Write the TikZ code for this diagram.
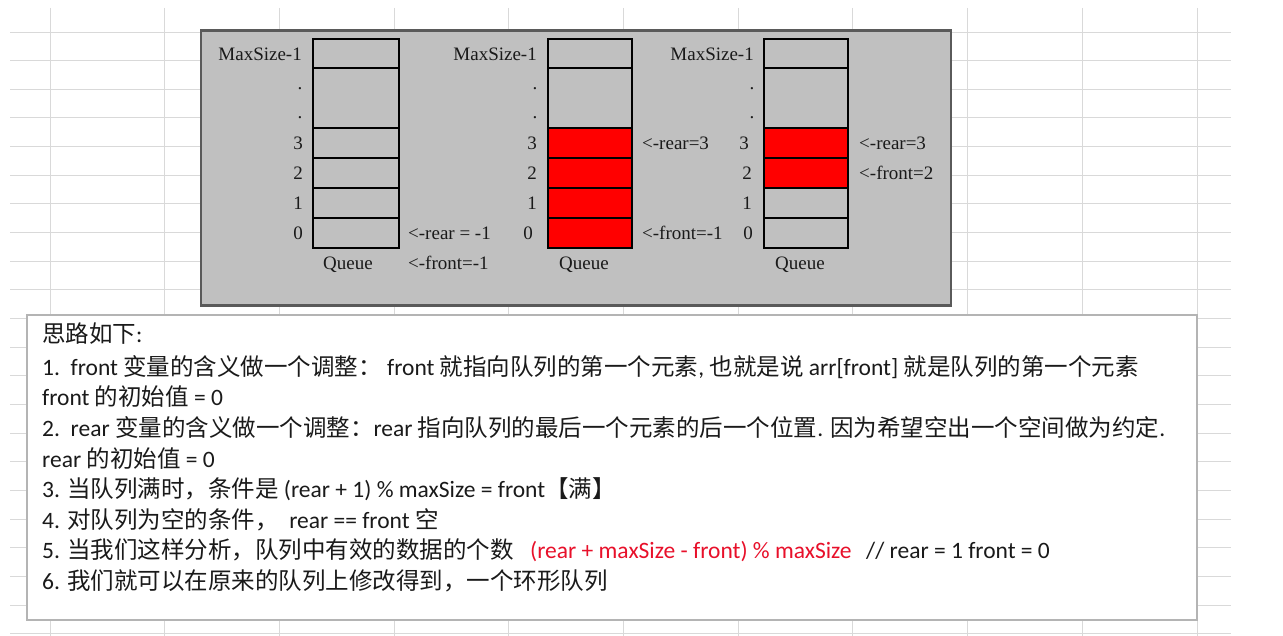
\documentclass[tikz,border=0pt]{standalone}
\usepackage{fontspec}
\setmainfont{Liberation Serif}
\newfontfamily\cjk{Noto Sans CJK SC}
\newfontfamily\latn{Carlito}
\newcommand\lat[1]{{\latn #1}}
\definecolor{gridc}{HTML}{D9D9D9}
\definecolor{boxgray}{HTML}{C0C0C0}
\definecolor{boxedge}{HTML}{5A5A5A}
\definecolor{noteedge}{HTML}{B4B4B4}
\definecolor{ink}{HTML}{1A1A1A}
\definecolor{formred}{HTML}{E8102A}
\tikzset{
  gridline/.style={draw=gridc, line width=0.9pt},
  panel/.style={draw=boxedge, fill=boxgray, line width=2.2pt, inner sep=0},
  notebox/.style={draw=noteedge, fill=white, line width=1.2pt, inner sep=0},
  cell/.style={draw=black, fill=boxgray, line width=1.1pt, inner sep=0, outer sep=0},
  fullcell/.style={cell, fill=red},
  idx/.style={font=\fontsize{19}{19}\selectfont, inner sep=0, anchor=base east, text=ink},
  ptr/.style={font=\fontsize{19}{19}\selectfont, inner sep=0, anchor=base west, text=ink},
  qname/.style={font=\fontsize{19}{19}\selectfont, inner sep=0, anchor=base, text=ink},
  dotlbl/.style={font=\fontsize{19}{19}\selectfont, inner sep=0, anchor=center, text=ink},
  note/.style={font=\cjk\fontsize{23.5}{23.5}\selectfont, inner sep=0, anchor=base west, text=ink},
}
\begin{document}
\begin{tikzpicture}[x=1pt,y=-1pt]
\useasboundingbox (0,0) rectangle (1283,636);
\fill[white] (0,0) rectangle (1283,636);
% spreadsheet grid
\foreach \k in {0,...,21} \draw[gridline] (10,{32+28.65*\k}) -- (1231,{32+28.65*\k});
\foreach \k in {0,...,10} \draw[gridline] ({50+114.7*\k},8) -- ({50+114.7*\k},636);

% grey panel
\node[panel, minimum width=750pt, minimum height=275pt] (panel) at (576,168) {};

% queue 1
\node[cell, minimum width=86pt, minimum height=29pt] (a9) at (356,53.5) {};
\node[cell, minimum width=86pt, minimum height=60pt] (ad) at (356,98) {};
\node[cell, minimum width=86pt, minimum height=30pt] (a3) at (356,143) {};
\node[cell, minimum width=86pt, minimum height=30pt] (a2) at (356,173) {};
\node[cell, minimum width=86pt, minimum height=30pt] (a1) at (356,203) {};
\node[cell, minimum width=86pt, minimum height=30pt] (a0) at (356,233) {};
\node[idx] (la9) at (302,60.5) {MaxSize-1};
\node[dotlbl] (lad1) at (300,89) {.};
\node[dotlbl] (lad2) at (300,118) {.};
\node[idx] (la3) at (303,149.5) {3};
\node[idx] (la2) at (303,179.5) {2};
\node[idx] (la1) at (303,209.5) {1};
\node[idx] (la0) at (303,239.5) {0};
\node[qname] (qa) at (348,270) {Queue};
\node[ptr] (pa1) at (408,239.5) {<-rear = -1};
\node[ptr] (pa2) at (408,269.5) {<-front=-1};

% queue 2
\node[cell, minimum width=84pt, minimum height=29pt] (b9) at (590,53.5) {};
\node[cell, minimum width=84pt, minimum height=60pt] (bd) at (590,98) {};
\node[fullcell, minimum width=84pt, minimum height=30pt] (b3) at (590,143) {};
\node[fullcell, minimum width=84pt, minimum height=30pt] (b2) at (590,173) {};
\node[fullcell, minimum width=84pt, minimum height=30pt] (b1) at (590,203) {};
\node[fullcell, minimum width=84pt, minimum height=30pt] (b0) at (590,233) {};
\node[idx] (lb9) at (537,60.5) {MaxSize-1};
\node[dotlbl] (lbd1) at (535,89) {.};
\node[dotlbl] (lbd2) at (535,118) {.};
\node[idx] (lb3) at (537,149.5) {3};
\node[idx] (lb2) at (537,179.5) {2};
\node[idx] (lb1) at (537,209.5) {1};
\node[idx] (lb0) at (533,239.5) {0};
\node[qname] (qb) at (584,270) {Queue};
\node[ptr] (pb1) at (642,149.5) {<-rear=3};
\node[ptr] (pb2) at (642,239.5) {<-front=-1};

% queue 3
\node[cell, minimum width=84pt, minimum height=29pt] (c9) at (806,53.5) {};
\node[cell, minimum width=84pt, minimum height=60pt] (cd) at (806,98) {};
\node[fullcell, minimum width=84pt, minimum height=30pt] (c3) at (806,143) {};
\node[fullcell, minimum width=84pt, minimum height=30pt] (c2) at (806,173) {};
\node[cell, minimum width=84pt, minimum height=30pt] (c1) at (806,203) {};
\node[cell, minimum width=84pt, minimum height=30pt] (c0) at (806,233) {};
\node[idx] (lc9) at (754,60.5) {MaxSize-1};
\node[dotlbl] (lcd1) at (752,89) {.};
\node[dotlbl] (lcd2) at (752,118) {.};
\node[idx] (lc3) at (749,149.5) {3};
\node[idx] (lc2) at (752,179.5) {2};
\node[idx] (lc1) at (752,209.5) {1};
\node[idx] (lc0) at (753,239.5) {0};
\node[qname] (qc) at (800,270) {Queue};
\node[ptr] (pc1) at (859,149.5) {<-rear=3};
\node[ptr] (pc2) at (859,179.5) {<-front=2};

% notes box
\node[notebox, minimum width=1170pt, minimum height=305pt] (notes) at (612,467.5) {};
\node[note] (n0) at (42,343) {思路如下\lat{:}};
\node[note] (n1) at (42,375.5) {\lat{1.\ \ front }变量的含义做一个调整：\lat{ front }就指向队列的第一个元素\lat{, }也就是说\lat{ arr[front] }就是队列的第一个元素};
\node[note] (n2) at (42,406) {\lat{front }的初始值\lat{ = 0}};
\node[note] (n3) at (42,436.5) {\lat{2.\ \ rear }变量的含义做一个调整：\lat{rear }指向队列的最后一个元素的后一个位置\lat{. }因为希望空出一个空间做为约定\lat{.}};
\node[note] (n4) at (42,467) {\lat{rear }的初始值\lat{ = 0}};
\node[note] (n5) at (42,497.5) {\lat{3. }当队列满时，条件是\lat{ (rear + 1) \% maxSize = front}【满】};
\node[note] (n6) at (42,528) {\lat{4. }对队列为空的条件，\lat{\ \ rear == front }空};
\node[note] (n7) at (42,558.5) {\lat{5. }当我们这样分析，队列中有效的数据的个数};
\node[note, text=formred] (n7b) at (530,558.5) {\lat{(rear + maxSize - front) \% maxSize}};
\node[note] (n7c) at (866,558.5) {\lat{// rear = 1 front = 0}};
\node[note] (n8) at (42,589) {\lat{6. }我们就可以在原来的队列上修改得到，一个环形队列};
\end{tikzpicture}
\end{document}
